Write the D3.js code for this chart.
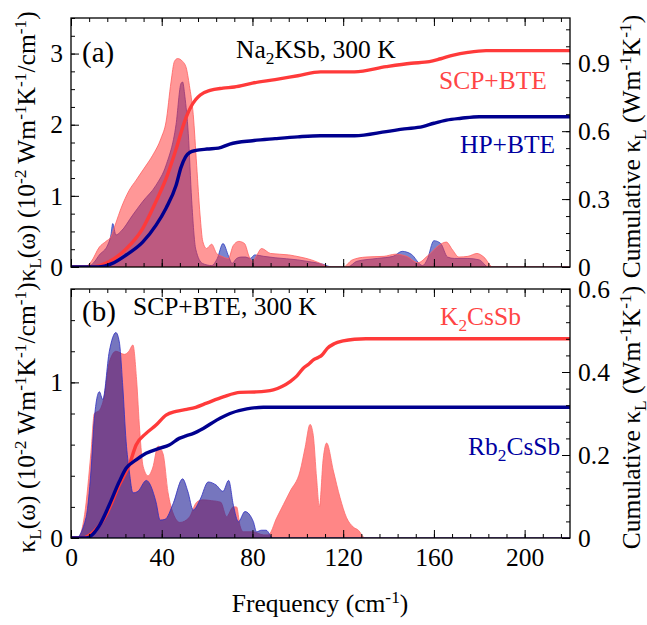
<!DOCTYPE html>
<html>
<head>
<meta charset="utf-8">
<script src="https://cdn.jsdelivr.net/npm/d3@7"></script>
<style>
  body { margin: 0; background: #fff; }
</style>
</head>
<body>
<svg id="chart" width="647" height="625"></svg>
<script>
// ---------- data ----------
const freqTicks = [0, 40, 80, 120, 160, 200];

// (a) Na2KSb, spectral kappa (10^-2 W m^-1 K^-1 / cm^-1)
const aScpFreq = [0, 6, 9, 12.5, 15.4, 17.5, 19.8, 22, 25.7, 28.7,
  32.3, 36, 39.7, 41.9, 44.1, 45.6, 47, 49.2, 50.8, 52.2,
  53.9, 55.4, 56.9, 58.1, 59.8, 62, 64.2, 66.5, 69.4, 71.5,
  74, 76.5, 78.5, 80, 82, 84, 88, 96, 101, 106,
  110, 114, 120, 124, 130, 138, 143, 148, 153, 157,
  162, 165.5, 168, 171, 175, 179, 182, 186, 220];
const aScpK = [0, 0, 0.08, 0.28, 0.36, 0.42, 0.62, 0.82, 1.08, 1.22,
  1.39, 1.57, 1.81, 2.04, 2.6, 2.89, 2.93, 2.89, 2.8, 2.55,
  2.14, 1.43, 0.73, 0.36, 0.26, 0.32, 0.19, 0.15, 0.12, 0.3,
  0.36, 0.33, 0.15, 0.08, 0.17, 0.26, 0.19, 0.17, 0.14, 0.1,
  0.05, 0, 0, 0.1, 0.14, 0.15, 0.18, 0.15, 0.06, 0.15,
  0.3, 0.35, 0.25, 0.14, 0.15, 0.19, 0.14, 0, 0];

const aHpFreq = [0, 7, 10, 12.5, 16.2, 17.6, 18.4, 19.8, 22, 27.2,
  31.6, 37.5, 41.9, 46.3, 48.5, 49.2, 50.2, 51.7, 53.2, 55,
  58, 62, 64.5, 67, 69.5, 71, 73, 75, 77, 79,
  81, 85, 90, 100, 106, 111, 115, 122, 126, 135,
  142, 146, 150, 155, 157, 160, 163, 166, 169, 175,
  180, 184, 220];
const aHpK = [0, 0, 0.06, 0.17, 0.31, 0.45, 0.61, 0.45, 0.5, 0.73,
  0.92, 1.15, 1.43, 2.0, 2.58, 2.6, 2.4, 1.88, 0.94, 0.25,
  0.05, 0.02, 0.12, 0.33, 0.15, 0.05, 0.12, 0.14, 0.14, 0.12,
  0.17, 0.15, 0.13, 0.1, 0.07, 0.04, 0, 0, 0.08, 0.12,
  0.15, 0.22, 0.18, 0.02, 0.1, 0.37, 0.33, 0.14, 0.12, 0.12,
  0.1, 0, 0];

// (a) cumulative kappa (W m^-1 K^-1)
const aScpCumFreq = [0, 9, 16.9, 24.3, 31.6, 37.5, 41.9, 46.3, 50.7, 53,
  55, 57, 61.3, 67, 72, 80, 90, 100, 110, 125,
  139, 150, 158, 163, 168.6, 175, 183, 220];
const aScpCum = [0, 0, 0.024, 0.08, 0.17, 0.29, 0.39, 0.52, 0.66, 0.71,
  0.74, 0.76, 0.78, 0.79, 0.795, 0.812, 0.828, 0.845, 0.862, 0.862,
  0.885, 0.9, 0.907, 0.92, 0.936, 0.948, 0.956, 0.956];

const aHpCumFreq = [0, 12, 18, 24.3, 31.6, 37.5, 41.9, 46.3, 48.5, 50.5,
  52.5, 55.1, 60, 65, 70, 80, 90, 100, 110, 125,
  139, 147, 155, 160, 165.6, 172, 180, 220];
const aHpCum = [0, 0, 0.015, 0.053, 0.11, 0.185, 0.26, 0.36, 0.44, 0.487,
  0.507, 0.515, 0.521, 0.525, 0.543, 0.558, 0.567, 0.575, 0.58, 0.58,
  0.598, 0.61, 0.62, 0.635, 0.649, 0.657, 0.664, 0.664];

// (b) K2CsSb and Rb2CsSb, spectral kappa
const bKFreq = [0, 3, 6, 8.8, 10.3, 12.5, 14.5, 16.9, 19.8, 23.5,
  25.5, 27.3, 28.9, 30.3, 31.8, 34, 36, 38.4, 40.6, 42.8,
  45, 48, 52, 55.4, 58, 62, 66, 68.6, 71.5, 73,
  74.5, 76, 80, 85, 87, 90.7, 96.6, 101, 103.2, 105.4,
  106.8, 108.3, 109.5, 111.2, 112.7, 115.7, 118.6, 121.5, 124.5, 126.7,
  129.6, 220];
const bK = [0, 0, 0.15, 0.55, 0.8, 0.82, 0.9, 1.13, 1.2, 1.18,
  1.2, 1.24, 1.02, 0.69, 0.46, 0.4, 0.45, 0.59, 0.54, 0.29,
  0.16, 0.1, 0.13, 0.23, 0.245, 0.24, 0.23, 0.137, 0.2, 0.2,
  0.08, 0.04, 0.04, 0.02, 0.02, 0.13, 0.3, 0.43, 0.58, 0.73,
  0.66, 0.38, 0.2, 0.51, 0.61, 0.43, 0.26, 0.13, 0.07, 0.05,
  0, 0];

const bRbFreq = [0, 2.2, 6.6, 8.8, 10.3, 12.5, 14, 16.9, 19.8, 21.3,
  22.8, 24.3, 25.7, 27.3, 29.5, 33.2, 37.5, 39.3, 41.5, 45,
  49.2, 51.5, 53.9, 57, 60.5, 64, 67, 69.5, 71.6, 73.8,
  76.7, 80.4, 81.8, 84, 86, 89, 220];
const bRb = [0, 0, 0.13, 0.43, 0.77, 0.94, 0.89, 1.2, 1.32, 1.26,
  0.98, 0.62, 0.43, 0.29, 0.3, 0.37, 0.23, 0.115, 0.12, 0.22,
  0.38, 0.3, 0.18, 0.25, 0.36, 0.34, 0.3, 0.37, 0.21, 0.105,
  0.17, 0.105, 0.04, 0.05, 0.05, 0, 0];

// (b) cumulative kappa
const bKCumFreq = [0, 5, 10, 15.4, 21.3, 25.7, 28.7, 33.1, 37.5, 41.9,
  46.3, 51, 55, 59.8, 67.1, 74.5, 81.8, 89.2, 93, 96.6,
  99.5, 102.4, 105, 107, 109, 110.5, 113, 116, 120, 125,
  130, 220];
const bKCum = [0, 0, 0.015, 0.055, 0.128, 0.176, 0.224, 0.252, 0.272, 0.296,
  0.305, 0.31, 0.315, 0.325, 0.34, 0.351, 0.352, 0.357, 0.365, 0.377,
  0.39, 0.409, 0.42, 0.43, 0.435, 0.44, 0.457, 0.468, 0.475, 0.479,
  0.48, 0.48];

const bRbCumFreq = [0, 6.6, 12.5, 16.9, 21.3, 24.3, 28.7, 33.1, 38.9, 43.3,
  47.7, 50.7, 54, 58.3, 64.2, 70.1, 77.5, 84.8, 88, 220];
const bRbCum = [0, 0, 0.03, 0.08, 0.136, 0.168, 0.188, 0.204, 0.216, 0.224,
  0.24, 0.246, 0.252, 0.264, 0.284, 0.30, 0.311, 0.315, 0.315, 0.315];

// ---------- drawing ----------
const svg = d3.select("#chart");
const FONT = '"Liberation Serif", "Times New Roman", serif';
const FS = 25.5;
const RED = "#ff3a3a", BLUE = "#00008f";
const RED_TXT = "#ff4545", BLUE_TXT = "#0000a0";

const x = d3.scaleLinear().domain([0, 220]).range([71, 570]);
const minorFreq = d3.range(0, 221, 8);

// writes text made of plain / subscript / superscript runs
function rich(textSel, parts, size) {
  const fs = size || FS;
  textSel.attr("font-family", FONT).attr("font-size", fs);
  let off = 0;
  parts.forEach(([s, mode]) => {
    const target = mode === "sub" ? 0.24 * fs : mode === "sup" ? -0.36 * fs : 0;
    const t = textSel.append("tspan").text(s);
    if (target !== off) t.attr("dy", target - off);
    if (mode) t.attr("font-size", fs * 0.68);
    off = target;
  });
  return textSel;
}

function panel(cfg) {
  const yL = d3.scaleLinear().domain([0, cfg.leftMax]).range([cfg.bottom, cfg.top]);
  const yR = d3.scaleLinear().domain([0, cfg.rightMax]).range([cfg.bottom, cfg.top]);
  const g = svg.append("g");
  const clipId = "clip-" + cfg.id;
  g.append("clipPath").attr("id", clipId).append("rect")
    .attr("x", x(0)).attr("y", cfg.top)
    .attr("width", x(220) - x(0)).attr("height", cfg.bottom - cfg.top);
  const plot = g.append("g").attr("clip-path", `url(#${clipId})`);

  cfg.fills.forEach(f => {
    const pts = d3.zip(f.freq, f.vals);
    const area = d3.area().curve(d3.curveMonotoneX)
      .x(d => x(d[0])).y0(yL(0)).y1(d => yL(d[1]));
    plot.append("path").datum(pts).attr("d", area)
      .attr("fill", f.color).attr("fill-opacity", f.opacity)
      .attr("stroke", f.stroke).attr("stroke-width", 1).attr("stroke-opacity", 0.8);
  });
  cfg.lines.forEach(l => {
    const pts = d3.zip(l.freq, l.vals);
    const line = d3.line().curve(d3.curveMonotoneX)
      .x(d => x(d[0])).y(d => yR(d[1]));
    plot.append("path").datum(pts).attr("d", line)
      .attr("fill", "none").attr("stroke", l.color).attr("stroke-width", 3.4)
      .attr("stroke-linejoin", "round");
  });

  // axes with inward ticks
  function ax(axis, tx, ty) {
    const a = g.append("g")
      .attr("transform", `translate(${tx},${ty})`).call(axis)
      .attr("font-family", FONT).attr("font-size", FS);
    a.select(".domain").remove();
    a.selectAll("line").attr("stroke", "#000").attr("stroke-width", 1);
    a.selectAll("text").attr("fill", "#000");
    return a;
  }
  ax(d3.axisBottom(x).tickValues(minorFreq).tickSize(-4).tickFormat(""), 0, cfg.bottom);
  ax(d3.axisBottom(x).tickValues(freqTicks).tickSize(-8).tickPadding(10)
     .tickFormat(cfg.xLabels ? d3.format("d") : ""), 0, cfg.bottom);
  ax(d3.axisTop(x).tickValues(minorFreq).tickSize(-4).tickFormat(""), 0, cfg.top);
  ax(d3.axisTop(x).tickValues(freqTicks).tickSize(-8).tickFormat(""), 0, cfg.top);

  ax(d3.axisLeft(yL).tickValues(cfg.leftMinor).tickSize(-4).tickFormat(""), x(0), 0);
  ax(d3.axisLeft(yL).tickValues(cfg.leftMajor).tickSize(-8).tickPadding(8)
     .tickFormat(d3.format("d")), x(0), 0);
  ax(d3.axisRight(yR).tickValues(cfg.rightMinor).tickSize(-4).tickFormat(""), x(220), 0);
  ax(d3.axisRight(yR).tickValues(cfg.rightMajor).tickSize(-8).tickPadding(8)
     .tickFormat(d => d === 0 ? "0" : d3.format(".1f")(d)), x(220), 0);

  g.append("rect").attr("x", x(0)).attr("y", cfg.top)
    .attr("width", x(220) - x(0)).attr("height", cfg.bottom - cfg.top)
    .attr("fill", "none").attr("stroke", "#000").attr("stroke-width", 1.3);

  // axis titles
  const midY = (cfg.top + cfg.bottom) / 2 + 4;
  rich(svg.append("text").attr("transform", `translate(35,${midY}) rotate(-90)`)
      .attr("text-anchor", "middle"),
    [["κ"], ["L", "sub"], ["(ω) (10"], ["-2", "sup"], [" Wm"], ["-1", "sup"],
     ["K"], ["-1", "sup"], ["/cm"], ["-1", "sup"], [")"]]);
  rich(svg.append("text").attr("transform", `translate(640,${midY}) rotate(-90)`)
      .attr("text-anchor", "middle"),
    [["Cumulative κ"], ["L", "sub"], ["  (Wm"], ["-1", "sup"], ["K"], ["-1", "sup"], [")"]]);
  return g;
}

const rng = (a, b, s) => d3.range(0, Math.round((b - a) / s) + 1).map(i => +(a + i * s).toFixed(4));

panel({
  id: "a", top: 18, bottom: 267, leftMax: 3.5, rightMax: 1.1,
  leftMajor: [0, 1, 2, 3], leftMinor: rng(0, 3.5, 0.25),
  rightMajor: [0, 0.3, 0.6, 0.9], rightMinor: rng(0, 1.05, 0.075),
  xLabels: false,
  fills: [
    { freq: aHpFreq, vals: aHpK, color: "#2233b0", opacity: 0.6, stroke: "#3040c0" },
    { freq: aScpFreq, vals: aScpK, color: "#ff2f2f", opacity: 0.5, stroke: "#ff6060" }
  ],
  lines: [
    { freq: aScpCumFreq, vals: aScpCum, color: RED },
    { freq: aHpCumFreq, vals: aHpCum, color: BLUE }
  ]
});

panel({
  id: "b", top: 289, bottom: 538, leftMax: 1.6, rightMax: 0.6,
  leftMajor: [0, 1], leftMinor: rng(0, 1.6, 0.2),
  rightMajor: [0, 0.2, 0.4, 0.6], rightMinor: rng(0, 0.6, 0.04),
  xLabels: true,
  fills: [
    { freq: bKFreq, vals: bK, color: "#ff2f2f", opacity: 0.58, stroke: "#ff6a6a" },
    { freq: bRbFreq, vals: bRb, color: "#1a1a92", opacity: 0.6, stroke: "#3030c0" }
  ],
  lines: [
    { freq: bKCumFreq, vals: bKCum, color: RED },
    { freq: bRbCumFreq, vals: bRbCum, color: BLUE }
  ]
});

// panel annotations
function label(xp, yp, parts, color, size) {
  const t = svg.append("text").attr("x", xp).attr("y", yp).attr("fill", color || "#000");
  return rich(t, parts, size);
}
label(82, 62, [["(a)"]], "#000", 29);
label(236, 58, [["Na"], ["2", "sub"], ["KSb, 300 K"]]);
label(439, 89, [["SCP+BTE"]], RED_TXT);
label(460, 153, [["HP+BTE"]], BLUE_TXT);

label(82, 321, [["(b)"]], "#000", 29);
label(133, 315, [["SCP+BTE, 300 K"]]);
label(440, 325, [["K"], ["2", "sub"], ["CsSb"]], RED_TXT);
label(468, 455, [["Rb"], ["2", "sub"], ["CsSb"]], BLUE_TXT);

// x axis title
rich(svg.append("text").attr("x", 320).attr("y", 612).attr("text-anchor", "middle"),
  [["Frequency (cm"], ["-1", "sup"], [")"]]);
</script>
</body>
</html>
